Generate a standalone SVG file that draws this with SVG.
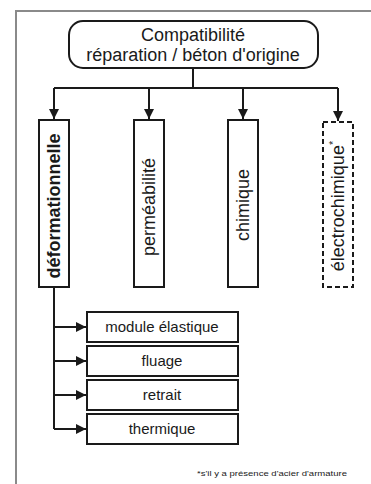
<svg xmlns="http://www.w3.org/2000/svg" width="371" height="484" viewBox="0 0 371 484">
  <style>
    .frame { fill: none; stroke: #8a8a8a; stroke-width: 2; }
    .box { fill: #ffffff; stroke: #1a1a1a; stroke-width: 2; }
    .dash { fill: #ffffff; stroke: #1a1a1a; stroke-width: 2; stroke-dasharray: 5 3; }
    .wire { fill: none; stroke: #1a1a1a; stroke-width: 2; marker-end: url(#head); }
    .line { fill: none; stroke: #1a1a1a; stroke-width: 2; }
    text { font-family: "Liberation Sans", Arial, sans-serif; fill: #1a1a1a; text-anchor: middle; }
    .t18 { font-size: 18px; }
    .t15 { font-size: 15px; }
    .bold { font-weight: bold; }
    .sup { font-size: 11px; }
    .note { font-size: 8px; text-anchor: start; }
  </style>
  <defs>
    <marker id="head" viewBox="0 0 10 10" refX="10" refY="5" markerWidth="5" markerHeight="5" orient="auto" markerUnits="strokeWidth">
      <path d="M0,0 L10,5 L0,10 z" fill="#1a1a1a"/>
    </marker>
  </defs>

  <!-- page frame (top and left edges) -->
  <path class="frame" d="M371,11 H16 V484"/>

  <!-- connectors -->
  <g id="connectors">
    <path class="line" d="M193,68 V88 M54,88 H338"/>
    <path class="wire" d="M54,88 V119"/>
    <path class="wire" d="M149,88 V119"/>
    <path class="wire" d="M243,88 V119"/>
    <path class="wire" d="M338,88 V121"/>
    <path class="line" d="M54,287 V429"/>
    <path class="wire" d="M54,327 H86"/>
    <path class="wire" d="M54,361 H86"/>
    <path class="wire" d="M54,395 H86"/>
    <path class="wire" d="M54,429 H86"/>
  </g>

  <!-- root -->
  <g id="compatibilite">
    <rect class="box" x="69" y="21" width="249" height="47" rx="14"/>
    <text class="t18" x="193" y="41">Compatibilité</text>
    <text class="t18" x="193" y="61">réparation / béton d'origine</text>
  </g>

  <!-- categories -->
  <g id="deformationnelle">
    <rect class="box" x="39" y="120" width="30" height="167"/>
    <text class="t18 bold" transform="translate(60,206) rotate(-90)">déformationnelle</text>
  </g>
  <g id="permeabilite">
    <rect class="box" x="134" y="120" width="30" height="167"/>
    <text class="t18" transform="translate(155,207) rotate(-90)">perméabilité</text>
  </g>
  <g id="chimique">
    <rect class="box" x="228" y="120" width="30" height="167"/>
    <text class="t18" transform="translate(249,205) rotate(-90)">chimique</text>
  </g>
  <g id="electrochimique">
    <rect class="dash" x="323" y="122" width="30" height="165"/>
    <text class="t18" transform="translate(344,206) rotate(-90)">électrochimique<tspan class="sup" dy="-7">*</tspan></text>
  </g>

  <!-- deformational sub-items -->
  <g id="module-elastique">
    <rect class="box" x="87" y="312" width="151" height="30"/>
    <text class="t15" x="162" y="332">module élastique</text>
  </g>
  <g id="fluage">
    <rect class="box" x="87" y="346" width="151" height="30"/>
    <text class="t15" x="162" y="366">fluage</text>
  </g>
  <g id="retrait">
    <rect class="box" x="87" y="380" width="151" height="30"/>
    <text class="t15" x="162" y="400">retrait</text>
  </g>
  <g id="thermique">
    <rect class="box" x="87" y="414" width="151" height="30"/>
    <text class="t15" x="162" y="434">thermique</text>
  </g>

  <!-- footnote -->
  <text class="note" x="197" y="476" textLength="150" lengthAdjust="spacingAndGlyphs">*s'il y a présence d'acier d'armature</text>
</svg>
